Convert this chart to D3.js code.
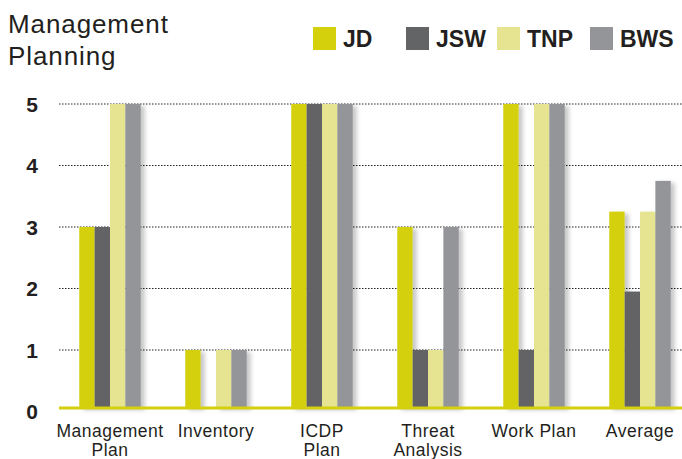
<!DOCTYPE html>
<html>
<head>
<meta charset="utf-8">
<script src="https://cdn.jsdelivr.net/npm/d3@7"></script>
<style>
  html, body { margin: 0; padding: 0; background: #fff; }
  svg { display: block; }
  text { font-family: "Liberation Sans", Arial, Helvetica, sans-serif; fill: #231f20; }
</style>
</head>
<body>
<svg id="chart" width="682" height="459"></svg>
<script>
// Scores per planning component, one array per site
const categories = ["Management Plan", "Inventory", "ICDP Plan", "Threat Analysis", "Work Plan", "Average"];
const categoryLines = [["Management", "Plan"], ["Inventory"], ["ICDP", "Plan"], ["Threat", "Analysis"], ["Work Plan"], ["Average"]];
const seriesNames = ["JD", "JSW", "TNP", "BWS"];
const jdValues  = [3, 1, 5, 3, 5, 3.25];
const jswValues = [3, 0, 5, 1, 1, 1.95];
const tnpValues = [5, 1, 5, 1, 5, 3.25];
const bwsValues = [5, 1, 5, 3, 5, 3.75];
const yTicks = [0, 1, 2, 3, 4, 5];
const titleLines = ["Management", "Planning"];

const seriesValues = [jdValues, jswValues, tnpValues, bwsValues];
const colors = ["#d4d00c", "#636466", "#e6e391", "#939598"];
const baseColor = "#d4d00c";

const svg = d3.select("#chart");

// soft drop shadow for the bars
const defs = svg.append("defs");
const f = defs.append("filter").attr("id", "shadow")
  .attr("x", "-20%").attr("y", "-5%").attr("width", "180%").attr("height", "115%");
f.append("feDropShadow").attr("dx", 4).attr("dy", 2).attr("stdDeviation", 2)
  .attr("flood-color", "#000").attr("flood-opacity", 0.22);

const x = d3.scaleBand().domain(categories).range([57, 693])
  .paddingInner(0.42).paddingOuter(0.21);
const xs = d3.scaleBand().domain(seriesNames).range([0, x.bandwidth()]);
const y = d3.scaleLinear().domain([0, 5]).range([411.5, 104]);
const baseY = y(0) - 3.5;
const gridLeft = 59, gridRight = 682;

// title
svg.append("text")
  .style("font-size", "26px").style("letter-spacing", "0.9px")
  .selectAll("tspan").data(titleLines).join("tspan")
  .attr("x", 8).attr("y", (d, i) => 33 + i * 32).text(d => d);

// legend
const legendX = [313, 406, 497, 590];
const lg = svg.append("g").selectAll("g").data(seriesNames).join("g")
  .attr("transform", (d, i) => `translate(${legendX[i]},27)`);
lg.append("rect").attr("width", 23).attr("height", 23).attr("fill", (d, i) => colors[i]);
lg.append("text").attr("x", 30).attr("y", 19.5)
  .style("font-size", "23px").style("font-weight", "bold").text(d => d);

// dotted gridlines
svg.append("g").selectAll("line").data(yTicks.filter(t => t > 0)).join("line")
  .attr("x1", gridLeft).attr("x2", gridRight)
  .attr("y1", d => y(d)).attr("y2", d => y(d))
  .attr("stroke", "#222").attr("stroke-width", 1).attr("stroke-dasharray", "1.5,1.5");

// y tick labels
svg.append("g").selectAll("text").data(yTicks).join("text")
  .attr("x", 32).attr("y", d => y(d)).attr("text-anchor", "middle")
  .attr("dominant-baseline", "central")
  .style("font-size", "21px").style("font-weight", "bold").text(d => d);

// bars
const groups = svg.append("g").selectAll("g").data(categories).join("g")
  .attr("transform", d => `translate(${x(d)},0)`);
groups.selectAll("rect")
  .data((c, ci) => seriesNames.map((s, si) => ({ s, si, v: seriesValues[si][ci] })))
  .join("rect")
  .filter(d => d.v > 0)
  .attr("x", d => xs(d.s)).attr("width", xs.bandwidth())
  .attr("y", d => y(d.v)).attr("height", d => baseY - y(d.v))
  .attr("fill", d => colors[d.si]).attr("filter", "url(#shadow)");

// baseline
svg.append("line").attr("x1", gridLeft).attr("x2", gridRight)
  .attr("y1", baseY).attr("y2", baseY)
  .attr("stroke", baseColor).attr("stroke-width", 3);

// category labels
svg.append("g").selectAll("text").data(categories).join("text")
  .attr("text-anchor", "middle").style("font-size", "17.5px").style("letter-spacing", "0.5px")
  .each(function (d, i) {
    d3.select(this).selectAll("tspan").data(categoryLines[i]).join("tspan")
      .attr("x", x(d) + x.bandwidth() / 2).attr("y", (t, j) => 437 + j * 19).text(t => t);
  });
</script>
</body>
</html>
